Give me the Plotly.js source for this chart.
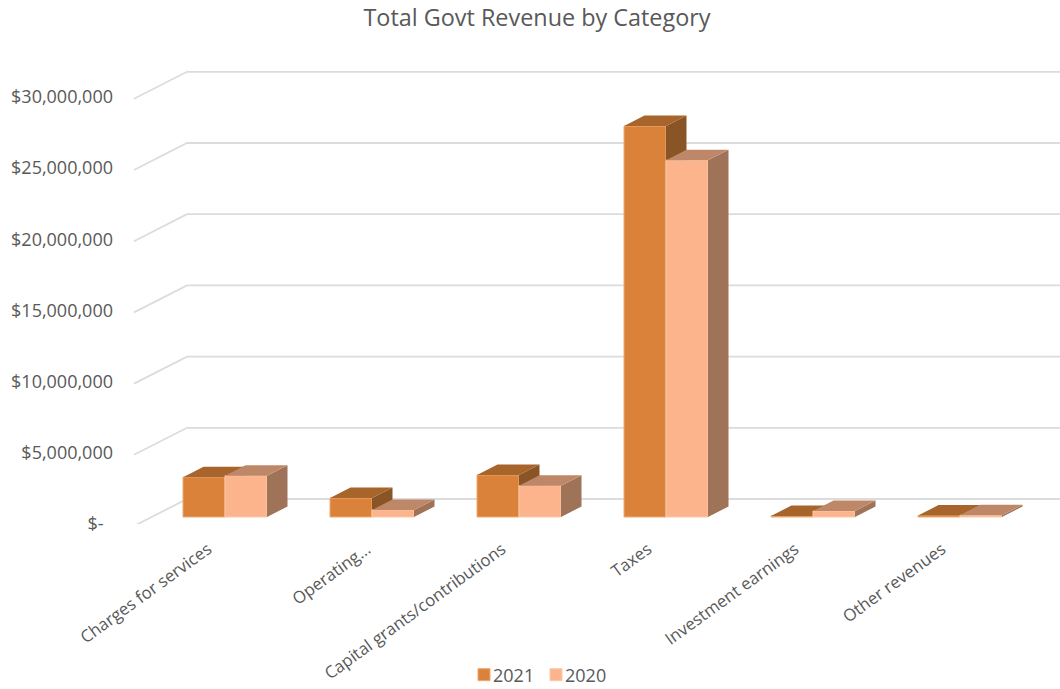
<!DOCTYPE html>
<html><head><meta charset="utf-8">
<script src="https://cdn.plot.ly/plotly-3.0.1.min.js"></script>
<style>html,body{margin:0;padding:0;background:#fff}
#chart .legend .legendsymbols{transform:translateX(11px)}
#chart .legend .scrollbox{clip-path:none !important;transform:translateY(5px)}</style></head>
<body><div id="chart" style="width:1060px;height:689px"></div>
<script>
const categories = ["Charges for services","Operating...","Capital grants/contributions","Taxes","Investment earnings","Other revenues"];
const values2021 = [2800000,1330000,2950000,27450000,70000,100000];
const values2020 = [2900000,500000,2200000,25050000,420000,120000];
const yTicks = [0,5000000,10000000,15000000,20000000,25000000,30000000];
const yTickLabels = ["$-\u00a0\u00a0","$5,000,000","$10,000,000","$15,000,000","$20,000,000","$25,000,000","$30,000,000"];

// page geometry of the fake 3D projection
const W=1060,H=689, pxPerCat=147, cat0Px=225, pxPerUnit=71.2/5000000;
const base0Px=524, bar0Px=517;
const barHalf=42/pxPerCat, depthX=20.5/pxPerCat, depthY=10.5/pxPerUnit;
const labelShift=[-17,-5,-17,-18,-18,-18];
const xRange=[-cat0Px/pxPerCat,(W-cat0Px)/pxPerCat];
const yRangeBase=[0,base0Px/pxPerUnit];
const yRangeBar=[(bar0Px-base0Px)/pxPerUnit,bar0Px/pxPerUnit];
const idx=categories.map((_,i)=>i);

function poly(vals,fn){const xs=[],ys=[];vals.forEach((v,i)=>{fn(i,v).forEach(p=>{xs.push(p[0]);ys.push(p[1])});xs.push(null);ys.push(null)});return{x:xs,y:ys}}
function face(vals,off,kind,color,ax){
  const P=poly(vals,(i,v)=>{const a=i+off,b=a+barHalf;
    return kind==='top'?[[a,v],[b,v],[b+depthX,v+depthY],[a+depthX,v+depthY],[a,v]]
                       :[[b,0],[b+depthX,depthY],[b+depthX,v+depthY],[b,v],[b,0]]});
  return {type:'scatter',mode:'lines',x:P.x,y:P.y,fill:'toself',fillcolor:color,line:{width:0,color:color},showlegend:false,hoverinfo:'skip',xaxis:'x'+ax,yaxis:'y'+ax};
}
const gridTraces=yTicks.map(v=>({type:'scatter',mode:'lines',
  x:[(134-cat0Px)/pxPerCat,(187-cat0Px)/pxPerCat,xRange[1]],
  y:[v-2/pxPerUnit,v+25/pxPerUnit,v+25/pxPerUnit],
  line:{color:'#DCDCDC',width:1.8},showlegend:false,hoverinfo:'skip'}));
const bar=(name,vals,off,fill,edge,ax)=>({type:'bar',name,x:idx,y:vals,width:barHalf,offset:off,marker:{color:fill,line:{color:edge,width:1}},xaxis:'x'+ax,yaxis:'y'+ax});
const traces=[...gridTraces,
  face(values2021,-barHalf,'side','#8A5526',2),
  face(values2021,-barHalf,'top','#A7652B',2),
  bar('2021',values2021,-barHalf,'#DB823A','#EFA873',2),
  face(values2020,0,'side','#9F7358',3),
  face(values2020,0,'top','#BE8868',3),
  bar('2020',values2020,0,'#FBB48C','#FCC8AA',3)];
const font='"Open Sans", sans-serif', grey='#595959';
const hiddenX={visible:false,overlaying:'x',range:xRange,domain:[0,1]};
const hiddenY={visible:false,overlaying:'y',range:yRangeBar,domain:[(H-base0Px)/H,1]};
const layout={width:W,height:H,paper_bgcolor:'#fff',plot_bgcolor:'#fff',margin:{l:0,r:0,t:0,b:0},
  title:{text:'Total Govt Revenue by Category',font:{family:font,size:23.4,color:grey},x:537/W,xanchor:'center',y:1-18/H,yanchor:'middle',xref:'paper',yref:'paper'},
  barmode:'overlay',showlegend:true,
  legend:{orientation:'h',x:453/W,xanchor:'left',y:1-670/H,yanchor:'middle',font:{family:font,size:18,color:grey},itemclick:false,traceorder:'normal',entrywidth:27,entrywidthmode:'pixels'},
  xaxis:{range:xRange,domain:[0,1],tickmode:'array',tickvals:idx.map(i=>i+labelShift[i]/pxPerCat),ticktext:categories,tickangle:-36,
    tickfont:{family:font,size:16.8,color:grey},showgrid:false,zeroline:false,showline:false,ticks:'outside',ticklen:8,tickcolor:'rgba(0,0,0,0)'},
  yaxis:{range:yRangeBase,domain:[(H-base0Px)/H,1],tickmode:'array',tickvals:yTicks,ticktext:yTickLabels,tickfont:{family:font,size:18,color:grey},
    showgrid:false,zeroline:false,showline:false,anchor:'free',position:113/W,side:'left',ticks:''},
  xaxis2:hiddenX,yaxis2:hiddenY,xaxis3:hiddenX,yaxis3:hiddenY};
Plotly.newPlot('chart',traces,layout,{displayModeBar:false,staticPlot:true});
</script></body></html>
